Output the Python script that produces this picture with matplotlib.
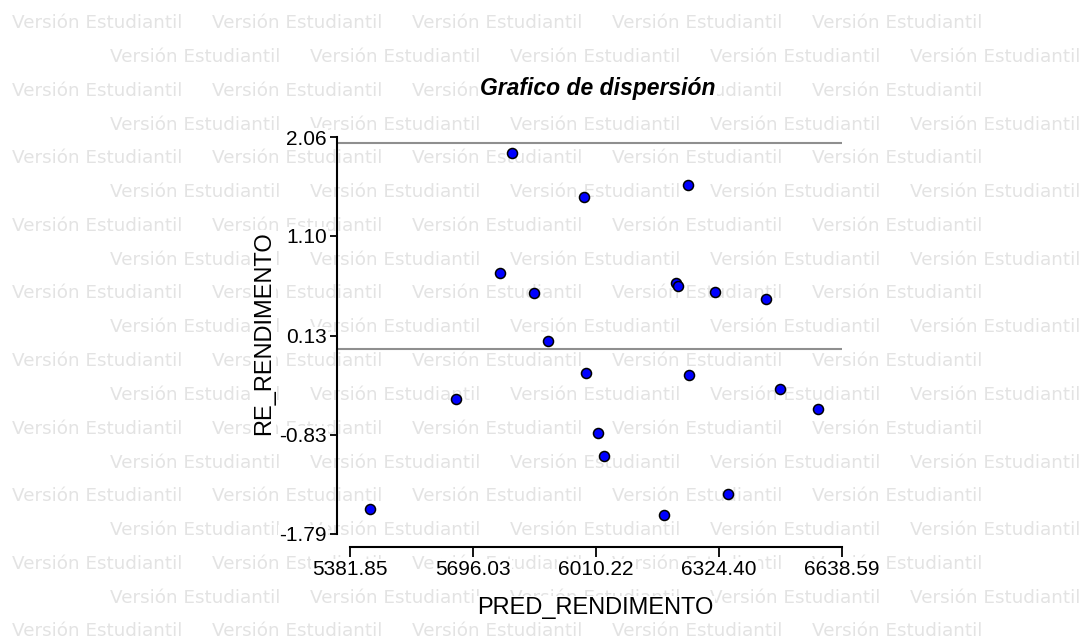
import matplotlib
matplotlib.use('Agg')
import matplotlib.pyplot as plt

# ---- data ----
pred = [5795.1, 5978.9, 6244.7, 5764.2, 5851.4, 6214.3, 6219.4, 6316.0, 6444.4, 5887.4,
        5984.3, 6249.1, 6480.9, 6577.5, 5651.8, 6015.0, 6029.8, 6348.0, 5431.9, 6184.5]
resid = [1.903, 1.474, 1.593, 0.736, 0.542, 0.641, 0.617, 0.561, 0.485, 0.076,
         -0.233, -0.252, -0.388, -0.584, -0.487, -0.815, -1.031, -1.400, -1.553, -1.612]
xticks = [5381.85, 5696.03, 6010.22, 6324.40, 6638.59]
xtick_labels = ['5381.85', '5696.03', '6010.22', '6324.40', '6638.59']
yticks = [-1.79, -0.83, 0.13, 1.10, 2.06]
ytick_labels = ['-1.79', '-0.83', '0.13', '1.10', '2.06']
ref_lines = [2.0, 0.0]
title = 'Grafico de dispersión'
xlabel = 'PRED_RENDIMENTO'
ylabel = 'RE_RENDIMENTO'
watermark = 'Versión Estudiantil'

W, H = 1090, 642
plt.rcParams['font.family'] = ['Liberation Sans', 'DejaVu Sans']
fig = plt.figure(figsize=(W / 100, H / 100), dpi=100)
fig.patch.set_facecolor('white')

# ---- watermark ----
renderer = fig.canvas.get_renderer()
probe = fig.text(0, 0, watermark, fontsize=12, family='DejaVu Sans')
w12 = probe.get_window_extent(renderer).width
probe.remove()
wm_w = 170.0
wm_fs = 12 * wm_w / w12
for k in range(-3, 16):
    yc = 158.3 + 33.8 * (k - 1)
    x0 = 11.7 if k % 2 else 110.0
    for n in range(5):
        x = x0 + 200 * n
        if x + wm_w <= W:
            fig.text(x / W, 1 - yc / H, watermark, fontsize=wm_fs, color='#e3e3e3',
                     family='DejaVu Sans', ha='left', va='center', zorder=-5)

# ---- axes ----
L, R, T, B = 337.3, 841.7, 137.1, 547.3
ax = fig.add_axes([L / W, 1 - B / H, (R - L) / W, (B - T) / H])
ax.set_facecolor('none')
ax.set_xlim(5349.4, 6638.59)
ax.set_ylim(-1.922, 2.06)

white = dict(facecolor='white', edgecolor='none', pad=1)

for yv in ref_lines:
    ax.axhline(yv, color='#8f8f8f', lw=1.5, zorder=1)

ax.scatter(pred, resid, s=52, c='#0000ff', edgecolors='black', linewidths=1.1,
           zorder=3, clip_on=False)

for s in ['top', 'right']:
    ax.spines[s].set_visible(False)
ax.spines['left'].set_bounds(yticks[0], yticks[-1])
ax.spines['bottom'].set_bounds(xticks[0], xticks[-1])
for s in ['left', 'bottom']:
    ax.spines[s].set_linewidth(1.5)

ax.set_xticks(xticks, xtick_labels)
ax.set_yticks(yticks, ytick_labels)
ax.tick_params(axis='x', length=7.2, width=1.3, pad=2, labelsize=15)
ax.tick_params(axis='y', length=5.4, width=1.3, pad=2, labelsize=15)
for lbl in ax.get_xticklabels() + ax.get_yticklabels():
    lbl.set_bbox(white)

ax.set_xlabel(xlabel, fontsize=17, va='center', bbox=white)
ax.xaxis.set_label_coords((595 - L) / (R - L), (B - 608) / (B - T))
ax.set_ylabel(ylabel, fontsize=17, va='center', bbox=white)
ax.yaxis.set_label_coords((264 - L) / (R - L), (B - 333) / (B - T))

fig.text(598 / W, 1 - 88 / H, title, ha='center', va='center', fontsize=16.5,
         fontweight='bold', fontstyle='italic', bbox=white)

fig.savefig('out.png', dpi=100, facecolor='white')
